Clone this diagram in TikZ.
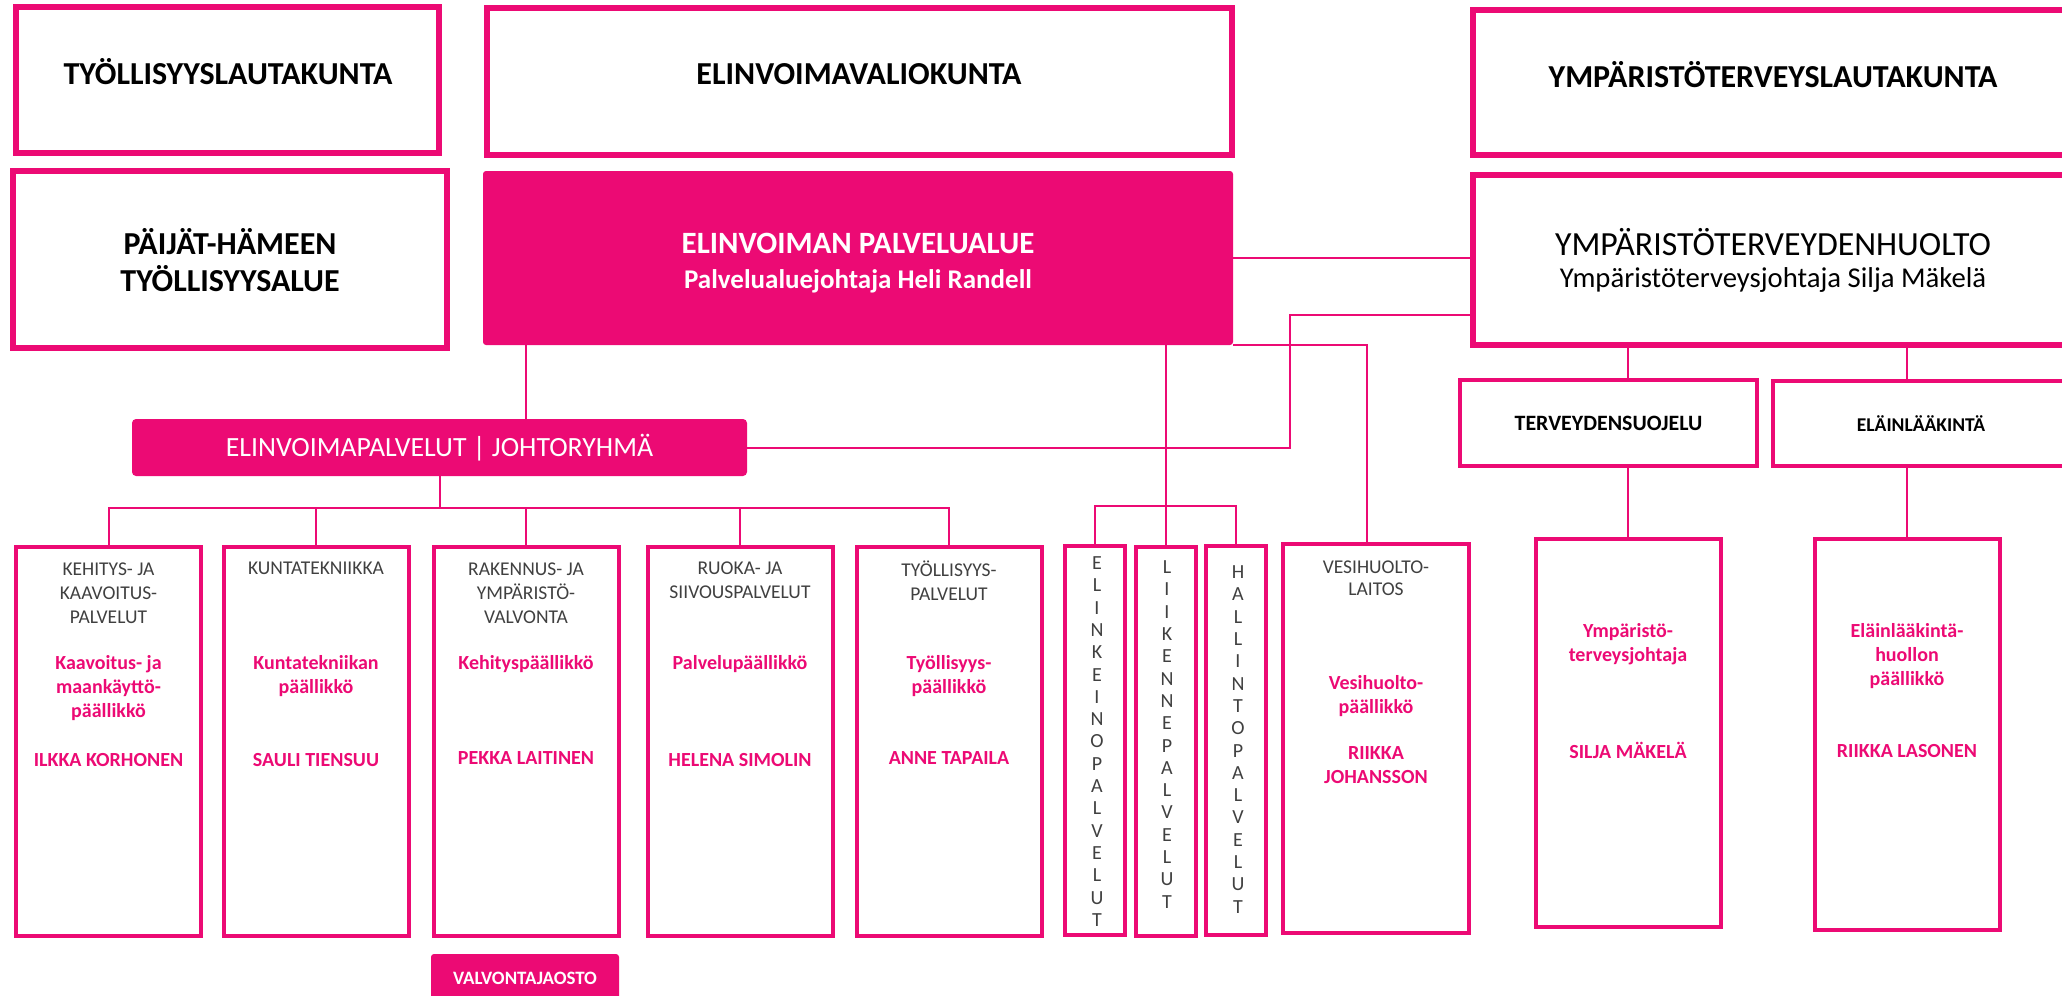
\documentclass[tikz,border=0pt]{standalone}
\usepackage{fontspec}
\setmainfont{Carlito}
\usepackage{xcolor}
\usetikzlibrary{positioning}
\usetikzlibrary{calc}

\definecolor{lahtipink}{RGB}{236,10,116}
\definecolor{headgray}{RGB}{64,64,64}

\begin{document}
\begin{tikzpicture}[
  x=1pt, y=-1pt,
  font=\fontsize{19.5}{24}\selectfont,
  board/.style={draw=lahtipink, line width=6pt, inner sep=0pt},
  fillbox/.style={fill=lahtipink, rounded corners=3pt, inner sep=0pt, text=white, align=center},
  unitbox/.style={draw=lahtipink, line width=4pt, inner sep=0pt, align=center},
  unit/.style={unitbox, minimum width=185pt, minimum height=389pt},
  slim/.style={unitbox, minimum width=60pt, minimum height=389pt},
  title/.style={inner sep=0pt, align=center, font=\fontsize{32}{37}\selectfont\bfseries},
  head/.style={inner sep=0pt, align=center, text=headgray},
  chief/.style={inner sep=0pt, align=center, text=lahtipink, font=\fontsize{20}{24}\selectfont\bfseries},
  vert/.style={inner sep=0pt, align=center, text=headgray, font=\fontsize{20}{22.3}\selectfont},
  link/.style={draw=lahtipink, line width=2pt}
]
\useasboundingbox (0,0) rectangle (2062,996);
\clip (0,0) rectangle (2062,996);

% Lautakunnat ja valiokunta
\node[board, minimum width=423pt, minimum height=146pt] (tyolautak) at (227.5,80) {};
\node[title] (tyolautak-t) at (228,72) {TYÖLLISYYSLAUTAKUNTA};
\node[board, minimum width=745pt, minimum height=147pt] (elinvaliok) at (859.5,81.5) {};
\node[title] (elinvaliok-t) at (859,74) {ELINVOIMAVALIOKUNTA};
\node[board, minimum width=600pt, minimum height=145pt] (ymplautak) at (1773,82.5) {};
\node[title] (ymplautak-t) at (1773,75) {YMPÄRISTÖTERVEYSLAUTAKUNTA};

% Palvelualue ja rinnakkaiset yksiköt
\node[board, minimum width=434pt, minimum height=177pt] (paijat) at (230,259.5) {};
\node[title] (paijat-t) at (230,260) {PÄIJÄT-HÄMEEN\\TYÖLLISYYSALUE};
\node[fillbox, minimum width=750pt, minimum height=174pt] (palvelualue) at (858,258) {};
\node[title, text=white, font=\fontsize{31}{36}\selectfont\bfseries] (palvelualue-t) at (858,243) {ELINVOIMAN PALVELUALUE};
\node[title, text=white, font=\fontsize{27}{33}\selectfont\bfseries] (palvelualue-s) at (858,281) {Palvelualuejohtaja Heli Randell};
\node[board, minimum width=600pt, minimum height=170pt] (ymphuolto) at (1773,260) {};
\node[title, font=\fontsize{33.8}{38}\selectfont] (ymphuolto-t) at (1773,242) {YMPÄRISTÖTERVEYDENHUOLTO};
\node[title, font=\fontsize{28.7}{33}\selectfont] (ymphuolto-s) at (1773,280) {Ympäristöterveysjohtaja Silja Mäkelä};

% Johtoryhma ja ymparistoterveyden jaot
\node[fillbox, rounded corners=4pt, minimum width=615pt, minimum height=57pt,
  font=\fontsize{27.8}{32}\selectfont] (johtoryhma) at (439.5,447.5) {ELINVOIMAPALVELUT | JOHTORYHMÄ};
\node[unitbox, minimum width=297pt, minimum height=86pt,
  font=\fontsize{21.9}{26}\selectfont\bfseries] (terveys) at (1608.5,423) {TERVEYDENSUOJELU};
\node[unitbox, minimum width=296pt, minimum height=85pt,
  font=\fontsize{19.5}{24}\selectfont\bfseries] (elain) at (1921,423.5) {ELÄINLÄÄKINTÄ};

% Palvelut
\node[unit] (kehitys) at (108.5,741.5) {};
\node[head] (kehitys-h) at (108.5,593) {KEHITYS- JA\\KAAVOITUS-\\PALVELUT};
\node[chief] (kehitys-p) at (108.5,688) {Kaavoitus- ja\\maankäyttö-\\päällikkö};
\node[chief] (kehitys-n) at (108.5,760) {ILKKA KORHONEN};

\node[unit] (kuntatek) at (316,741.5) {};
\node[head] (kuntatek-h) at (316,568) {KUNTATEKNIIKKA};
\node[chief] (kuntatek-p) at (316,676) {Kuntatekniikan\\päällikkö};
\node[chief] (kuntatek-n) at (316,760) {SAULI TIENSUU};

\node[unit] (rakennus) at (526,741.5) {};
\node[head] (rakennus-h) at (526,593) {RAKENNUS- JA\\YMPÄRISTÖ-\\VALVONTA};
\node[chief] (rakennus-p) at (526,664) {Kehityspäällikkö};
\node[chief] (rakennus-n) at (526,758) {PEKKA LAITINEN};

\node[unit] (ruoka) at (740,741.5) {};
\node[head] (ruoka-h) at (740,580.5) {RUOKA- JA\\SIIVOUSPALVELUT};
\node[chief] (ruoka-p) at (740,664) {Palvelupäällikkö};
\node[chief] (ruoka-n) at (740,760) {HELENA SIMOLIN};

\node[unit] (tyollisyys) at (949,741.5) {};
\node[head] (tyollisyys-h) at (949,580.5) {TYÖLLISYYS-\\PALVELUT};
\node[chief] (tyollisyys-p) at (949,676) {Työllisyys-\\päällikkö};
\node[chief] (tyollisyys-n) at (949,758) {ANNE TAPAILA};

\node[slim] (elinkeino) at (1095,740.5) {};
\node[vert] (elinkeino-t) at (1097,741.5) {E\\L\\I\\N\\K\\E\\I\\N\\O\\P\\A\\L\\V\\E\\L\\U\\T};
\node[slim] (liikenne) at (1166,741.5) {};
\node[vert] (liikenne-t) at (1167,734.5) {L\\I\\I\\K\\E\\N\\N\\E\\P\\A\\L\\V\\E\\L\\U\\T};
\node[slim] (hallinto) at (1236,740.5) {};
\node[vert] (hallinto-t) at (1238,739.5) {H\\A\\L\\L\\I\\N\\T\\O\\P\\A\\L\\V\\E\\L\\U\\T};

\node[unit, minimum width=186pt] (vesihuolto) at (1376,738.5) {};
\node[head, font=\fontsize{19.5}{22}\selectfont] (vesihuolto-h) at (1376,578) {VESIHUOLTO-\\LAITOS};
\node[chief] (vesihuolto-p) at (1376,696) {Vesihuolto-\\päällikkö};
\node[chief] (vesihuolto-n) at (1376,765) {RIIKKA\\JOHANSSON};

\node[unit, minimum height=388pt] (ympjohtaja) at (1628,733) {};
\node[chief] (ympjohtaja-p) at (1628,644) {Ympäristö-\\terveysjohtaja};
\node[chief] (ympjohtaja-n) at (1628,750) {SILJA MÄKELÄ};

\node[unit, minimum height=391pt] (elainjohtaja) at (1907,734.5) {};
\node[chief] (elainjohtaja-p) at (1907,656) {Eläinlääkintä-\\huollon\\päällikkö};
\node[chief] (elainjohtaja-n) at (1907,751) {RIIKKA LASONEN};

\node[fillbox, minimum width=188pt, minimum height=48pt,
  font=\fontsize{18.9}{22}\selectfont\bfseries] (valvonta) at (525,978) {VALVONTAJAOSTO};

% Yhteydet
\draw[link] (palvelualue.south -| rakennus.north) -- (johtoryhma.north -| rakennus.north);
\draw[link] (johtoryhma.south) -- ++(0,32) coordinate (jbus);
\draw[link] (kehitys.north) |- (jbus) -| (tyollisyys.north);
\draw[link] (kuntatek.north) -- (kuntatek.north |- jbus);
\draw[link] (rakennus.north) -- (rakennus.north |- jbus);
\draw[link] (ruoka.north) -- (ruoka.north |- jbus);

\draw[link] (palvelualue.south -| liikenne.north) -- (liikenne.north);
\draw[link] (elinkeino.north) |- ([yshift=39pt]liikenne.north) -| (hallinto.north);
\draw[link] (palvelualue.east) -- (palvelualue.east -| ymphuolto.west);
\draw[link] (palvelualue.south east) -| ([xshift=-9pt]vesihuolto.north);
\draw[link] ([yshift=-55pt]ymphuolto.west) -- ++(-180,0) |- (johtoryhma.east);

\draw[link] (ymphuolto.south -| ympjohtaja.north) -- (terveys.north -| ympjohtaja.north);
\draw[link] (ymphuolto.south -| elainjohtaja.north) -- (elain.north -| elainjohtaja.north);
\draw[link] (terveys.south -| ympjohtaja.north) -- (ympjohtaja.north);
\draw[link] (elain.south -| elainjohtaja.north) -- (elainjohtaja.north);

\end{tikzpicture}
\end{document}
